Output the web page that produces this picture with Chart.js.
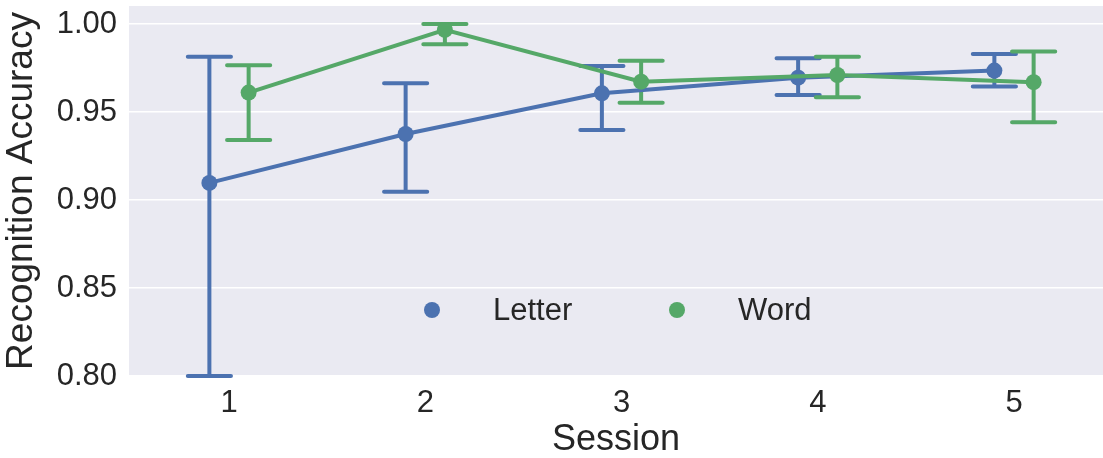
<!DOCTYPE html>
<html>
<head>
<meta charset="utf-8">
<script src="https://cdn.jsdelivr.net/npm/chart.js@4.4.1/dist/chart.umd.min.js"></script>
<style>
  html, body { margin: 0; padding: 0; background: #fff; }
  #wrap { width: 1103px; height: 458px; position: relative; }
</style>
</head>
<body>
<div id="wrap"><canvas id="acc"></canvas></div>
<script>
const sessions = [1, 2, 3, 4, 5];
const yTicks = [0.80, 0.85, 0.90, 0.95, 1.00];

const letterMean = [0.9097, 0.9375, 0.9606, 0.9695, 0.9735];
const letterLow  = [0.8000, 0.9047, 0.9398, 0.9597, 0.9644];
const letterHigh = [0.9813, 0.9663, 0.9761, 0.9805, 0.9830];

const wordMean = [0.9610, 0.9966, 0.9672, 0.9710, 0.9669];
const wordLow  = [0.9341, 0.9885, 0.9553, 0.9583, 0.9441];
const wordHigh = [0.9765, 1.0000, 0.9791, 0.9814, 0.9843];

const blue = "#4C72B0";
const green = "#55A868";
const ink = "#262626";
const dodge = 0.1;   // seaborn dodge offset
const cap = 0.11;    // half cap width, in session units

function pts(mean, off) {
  return sessions.map((s, i) => ({ x: s + off, y: mean[i] }));
}

// error bars drawn with the chart's own scales
const errorBars = {
  id: "errorBars",
  beforeDatasetsDraw(chart) {
    const ctx = chart.ctx;
    const xs = chart.scales.x, ys = chart.scales.y;
    const a = chart.chartArea;
    ctx.save();
    ctx.beginPath();
    ctx.rect(a.left, a.top, a.right - a.left, a.bottom - a.top + 2);
    ctx.clip();
    chart.data.datasets.forEach(ds => {
      ctx.strokeStyle = ds.borderColor;
      ctx.lineWidth = 4;
      ctx.lineCap = "round";
      sessions.forEach((s, i) => {
        const xc = s + ds.off;
        const x = xs.getPixelForValue(xc);
        const x0 = xs.getPixelForValue(xc - cap), x1 = xs.getPixelForValue(xc + cap);
        const yl = ys.getPixelForValue(ds.low[i]), yh = ys.getPixelForValue(ds.high[i]);
        ctx.beginPath();
        ctx.moveTo(x, yl); ctx.lineTo(x, yh);
        ctx.moveTo(x0, yl); ctx.lineTo(x1, yl);
        ctx.moveTo(x0, yh); ctx.lineTo(x1, yh);
        ctx.stroke();
      });
    });
    ctx.restore();
  }
};

// legend inside the plot, like seaborn's
const innerLegend = {
  id: "innerLegend",
  afterDraw(chart) {
    const ctx = chart.ctx;
    const items = [[432, 493], [677, 738]];
    ctx.save();
    ctx.font = "31px 'Liberation Sans', Arial, sans-serif";
    ctx.textBaseline = "middle";
    chart.data.datasets.forEach((ds, k) => {
      const [mx, tx] = items[k];
      ctx.fillStyle = ds.borderColor;
      ctx.beginPath();
      ctx.arc(mx, 310, 8, 0, Math.PI * 2);
      ctx.fill();
      ctx.fillStyle = ink;
      ctx.fillText(ds.label, tx, 311);
    });
    ctx.restore();
  }
};

const bgPlugin = {
  id: "plotBg",
  beforeDraw(chart) {
    const a = chart.chartArea, ctx = chart.ctx;
    ctx.save();
    ctx.fillStyle = "#EAEAF2";
    ctx.fillRect(a.left, a.top, a.right - a.left, a.bottom - a.top);
    ctx.restore();
  }
};

Chart.defaults.font.family = "'Liberation Sans', Arial, sans-serif";
Chart.defaults.color = ink;

new Chart("acc", {
  type: "line",
  data: {
    datasets: [
      {
        label: "Letter",
        data: pts(letterMean, -dodge),
        low: letterLow, high: letterHigh, off: -dodge,
        borderColor: blue, backgroundColor: blue,
        borderWidth: 4, pointRadius: 8, pointHoverRadius: 8,
        pointBorderWidth: 0, order: 1
      },
      {
        label: "Word",
        data: pts(wordMean, dodge),
        low: wordLow, high: wordHigh, off: dodge,
        borderColor: green, backgroundColor: green,
        borderWidth: 4, pointRadius: 8, pointHoverRadius: 8,
        pointBorderWidth: 0, order: 0
      }
    ]
  },
  options: {
    responsive: true,
    maintainAspectRatio: false,
    animation: false,
    layout: { autoPadding: false, padding: { top: 6, right: 0, bottom: 0, left: 0 } },
    plugins: { legend: { display: false }, tooltip: { enabled: false } },
    scales: {
      x: {
        type: "linear",
        min: 0.4904,
        max: 5.4535,
        afterBuildTicks(s) { s.ticks = sessions.map(v => ({ value: v })); },
        afterFit(s) { s.height = 82; s.paddingLeft = 0; s.paddingRight = 0; },
        grid: { display: false, drawTicks: false },
        border: { display: false },
        ticks: { font: { size: 31 }, padding: 9, color: ink, maxRotation: 0 },
        title: { display: true, text: "Session", font: { size: 36, lineHeight: 1 }, color: ink, padding: { top: 0, bottom: 0 } }
      },
      y: {
        min: 0.8,
        max: 1.0102,
        afterBuildTicks(s) { s.ticks = yTicks.map(v => ({ value: v })); },
        afterFit(s) { s.width = 129; s.paddingTop = 0; s.paddingBottom = 0; },
        grid: { color: "#FFFFFF", lineWidth: 1.5, drawTicks: false },
        border: { display: false },
        ticks: { font: { size: 31 }, padding: 12, color: ink, callback: v => v.toFixed(2) },
        title: { display: true, text: "Recognition Accuracy", font: { size: 37, lineHeight: 1 }, color: ink, padding: { top: 3, bottom: 0 } }
      }
    }
  },
  plugins: [bgPlugin, errorBars, innerLegend]
});
</script>
</body>
</html>
